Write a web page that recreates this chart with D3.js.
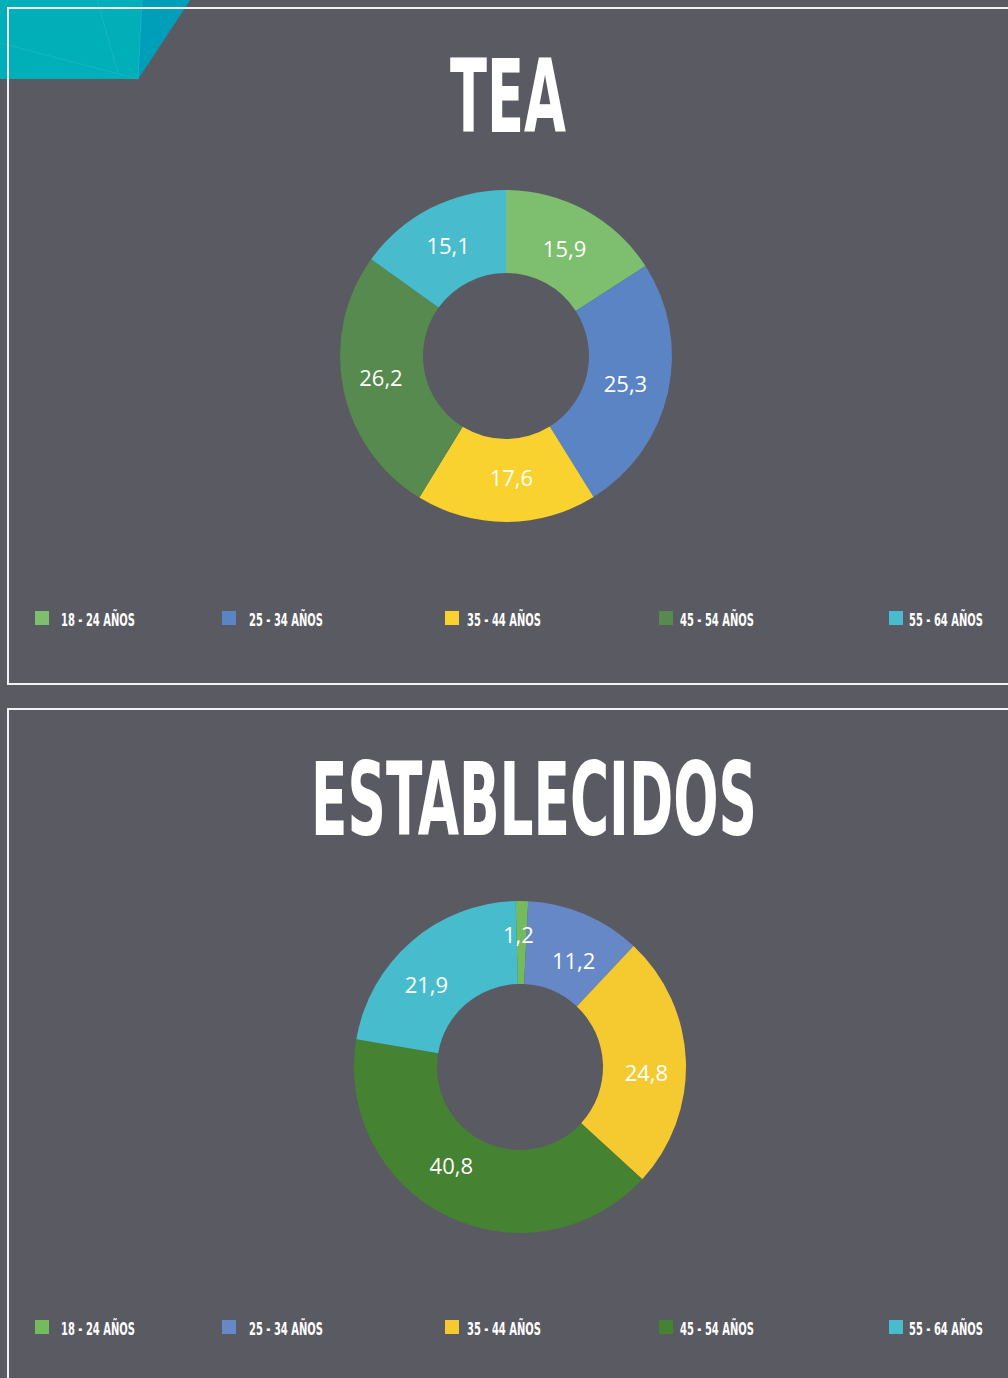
<!DOCTYPE html>
<html><head><meta charset="utf-8">
<script src="https://cdn.jsdelivr.net/npm/d3@7"></script>
<style>
html,body{margin:0;padding:0;background:#5a5a62;}
svg{display:block;}
</style></head>
<body>
<svg id="c" width="1008" height="1378"></svg>
<script>
const categories = ["18 - 24 AÑOS","25 - 34 AÑOS","35 - 44 AÑOS","45 - 54 AÑOS","55 - 64 AÑOS"];
const teaValues = [15.9, 25.3, 17.6, 26.2, 15.1];
const establecidosValues = [1.2, 11.2, 24.8, 40.8, 21.9];
const teaColors = ["#7dbf6e","#5b84c4","#fad230","#568a4e","#48bccc"];
const estColors = ["#74bb5e","#6688c6","#f5ca30","#458232","#47bccc"];
const titles = ["TEA","ESTABLECIDOS"];

const svg = d3.select("#c");
svg.append("rect").attr("width",1008).attr("height",1378).attr("fill","#5a5a62");

// decoration
const deco = svg.append("g");
deco.append("path").attr("d","M0,0 L190,0 L138,79 L0,79 Z").attr("fill","#00afb8");
deco.append("path").attr("d","M142,0 L190,0 L138,79 Z").attr("fill","#009fb9");
deco.append("path").attr("d","M0,43 L138,79 M97,0 L118,73 M142,0 L138,79 M0,15 L8,0").attr("stroke","#22b8c0").attr("stroke-width",0.7).attr("fill","none");

// panel frames
svg.append("path").attr("d","M1010,8 L8,8 L8,684 L1010,684").attr("fill","none").attr("stroke","#f2f2f2").attr("stroke-width",2);
svg.append("path").attr("d","M1010,709 L8,709 L8,1380").attr("fill","none").attr("stroke","#f2f2f2").attr("stroke-width",2);

const panels = [
  {title:titles[0], values:teaValues, colors:teaColors, cx:506, cy:356, rot:0, tx:508, ty:132, tw:116, legY:611,
   nudge:[[-1,3],[-2,1],[5,-2],[-3,-2],[-1,1]]},
  {title:titles[1], values:establecidosValues, colors:estColors, cx:520, cy:1067, rot:-1.5, tx:534, ty:835, tw:446, legY:1320,
   nudge:[[-3,-7],[5,9],[2,11],[-14,-13],[-12,12]]}
];
const legX = [35, 222, 445, 659, 889];
const legTextX = [61, 249, 467, 680, 909];

// squeeze a text horizontally to a target width
function fitWidth(sel, x, y, target){
  const w = sel.node().getComputedTextLength();
  sel.attr("transform",`translate(${x},${y}) scale(${target/w},1)`);
}

panels.forEach(p => {
  const g = svg.append("g");
  const t = g.append("text").attr("text-anchor","middle")
    .attr("font-family","'DejaVu Sans Condensed','DejaVu Sans',sans-serif").attr("font-weight","bold")
    .attr("font-size",101).attr("fill","#ffffff").text(p.title);
  fitWidth(t, p.tx, p.ty, p.tw);

  const a0 = p.rot*Math.PI/180;
  const pie = d3.pie().sort(null).value(d=>d).startAngle(a0).endAngle(a0+2*Math.PI);
  const arc = d3.arc().innerRadius(83).outerRadius(166);
  const arcs = pie(p.values);
  const dg = g.append("g").attr("transform",`translate(${p.cx},${p.cy})`);
  dg.selectAll("path").data(arcs).join("path").attr("d",arc).attr("fill",(d,i)=>p.colors[i]);
  dg.selectAll("text").data(arcs).join("text")
    .attr("transform",(d,i)=>{const c=arc.centroid(d);return `translate(${c[0]+p.nudge[i][0]},${c[1]+p.nudge[i][1]})`;})
    .attr("text-anchor","middle").attr("dy","0.35em")
    .attr("font-family","'Open Sans',sans-serif").attr("font-size",22).attr("fill","#ffffff")
    .text(d=>String(d.data).replace(".",","));

  const lg = g.append("g");
  categories.forEach((c,i)=>{
    lg.append("rect").attr("x",legX[i]).attr("y",p.legY).attr("width",14).attr("height",14).attr("fill",p.colors[i]);
    const lt = lg.append("text")
      .attr("font-family","'DejaVu Sans Condensed','DejaVu Sans',sans-serif").attr("font-weight","bold")
      .attr("font-size",17).attr("fill","#ffffff").text(c);
    fitWidth(lt, legTextX[i], p.legY+15, 74);
  });
});
</script>
</body></html>
